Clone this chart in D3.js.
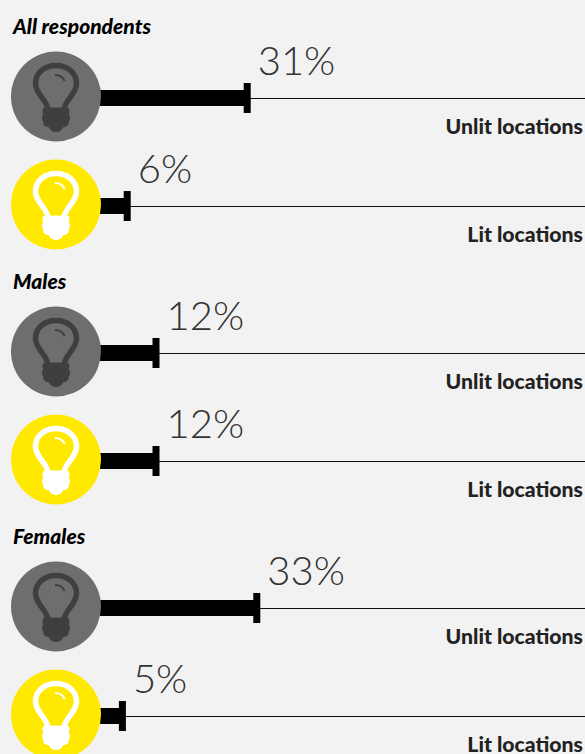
<!DOCTYPE html>
<html>
<head>
<meta charset="utf-8">
<script src="https://cdn.jsdelivr.net/npm/d3@7"></script>
<style>
  html, body { margin: 0; padding: 0; background: #f2f2f2; overflow: hidden; }
  text { font-family: Lato, sans-serif; }
</style>
</head>
<body>
<div id="chart"></div>
<script>
// Chart data
var groups = ["All respondents", "Males", "Females"];
var locations = ["Unlit locations", "Lit locations"];
var unlitValues = [31, 12, 33];
var litValues = [6, 12, 5];

var width = 585;
var height = 754;

var colors = {
  "Unlit locations": { disc: "#6e6e6e", bulb: "#3f3f3f" },
  "Lit locations": { disc: "#ffe900", bulb: "#ffffff" }
};

var rows = [];
groups.forEach(function(g, i) {
  rows.push({ group: g, location: locations[0], value: unlitValues[i] });
  rows.push({ group: g, location: locations[1], value: litValues[i] });
});

var svg = d3.select("#chart")
    .append("svg")
    .attr("width", width)
    .attr("height", height)
    .style("display", "block");

// Scales
var xScale = d3.scaleLinear().domain([0, 100]).range([98.4, 578.4]);
var groupScale = d3.scalePoint().domain(groups).range([98, 608]);
var rowScale = d3.scalePoint().domain(locations).range([0, 108]);

function rowY(d) {
  return groupScale(d.group) + rowScale(d.location);
}

// Group headings
svg.selectAll(".heading")
    .data(groups)
    .enter()
    .append("text")
    .attr("class", "heading")
    .attr("x", 13)
    .attr("y", function(d) { return groupScale(d) - 64; })
    .attr("font-size", 21)
    .attr("font-weight", 900)
    .attr("font-style", "italic")
    .attr("fill", "#000")
    .text(function(d) { return d; });

var row = svg.selectAll(".row")
    .data(rows)
    .enter()
    .append("g")
    .attr("class", "row")
    .attr("transform", function(d) { return "translate(0," + rowY(d) + ")"; });

// Thin line to the right edge
row.append("line")
    .attr("x1", 101)
    .attr("x2", width)
    .attr("y1", 0.5)
    .attr("y2", 0.5)
    .attr("stroke", "#111")
    .attr("stroke-width", 1.2);

// Thick bar
row.append("rect")
    .attr("x", 100)
    .attr("y", -8)
    .attr("width", function(d) { return xScale(d.value) - 100; })
    .attr("height", 16)
    .attr("fill", "#000");

// End cap
row.append("rect")
    .attr("x", function(d) { return xScale(d.value) - 3.5; })
    .attr("y", -15)
    .attr("width", 7)
    .attr("height", 30)
    .attr("fill", "#000");

// Disc
row.append("circle")
    .attr("cx", 56)
    .attr("cy", -1.5)
    .attr("r", 45)
    .attr("fill", function(d) { return colors[d.location].disc; });

// Bulb icon
var bulb = row.append("g")
    .attr("transform", "translate(56,-1.5)");

bulb.append("path")
    .attr("d", "M-8,14 C-8,4 -20.5,-2 -20.5,-13 C-20.5,-24 -11,-31 0,-31 C11,-31 20.5,-24 20.5,-13 C20.5,-2 8,4 8,14")
    .attr("fill", "none")
    .attr("stroke", function(d) { return colors[d.location].bulb; })
    .attr("stroke-width", 5.5);

bulb.append("path")
    .attr("d", "M-11,11 L11,11 C14,11 14,17 12.5,18 C14.5,19 14.5,24 12.5,25 C13.5,28 11,30.5 7.5,30.5 C6,34 3,35.5 0,35.5 C-3,35.5 -6,34 -7.5,30.5 C-11,30.5 -13.5,28 -12.5,25 C-14.5,24 -14.5,19 -12.5,18 C-14,17 -14,11 -11,11 Z")
    .attr("fill", function(d) { return colors[d.location].bulb; });

// Little highlight on the glass
bulb.append("path")
    .attr("d", "M-1,-21.5 C3,-21.5 7,-19.5 8.5,-15.5")
    .attr("fill", "none")
    .attr("stroke", function(d) { return colors[d.location].bulb; })
    .attr("stroke-width", 2);

// Percent labels
row.append("text")
    .attr("x", function(d) { return xScale(d.value) + 10.5; })
    .attr("y", -23)
    .attr("font-size", 40)
    .attr("font-weight", 300)
    .attr("fill", "#333")
    .text(function(d) { return d.value + "%"; });

// Location labels
row.append("text")
    .attr("x", 583)
    .attr("y", 36)
    .attr("text-anchor", "end")
    .attr("font-size", 21.2)
    .attr("font-weight", 900)
    .attr("fill", "#222")
    .text(function(d) { return d.location; });
</script>
</body>
</html>
